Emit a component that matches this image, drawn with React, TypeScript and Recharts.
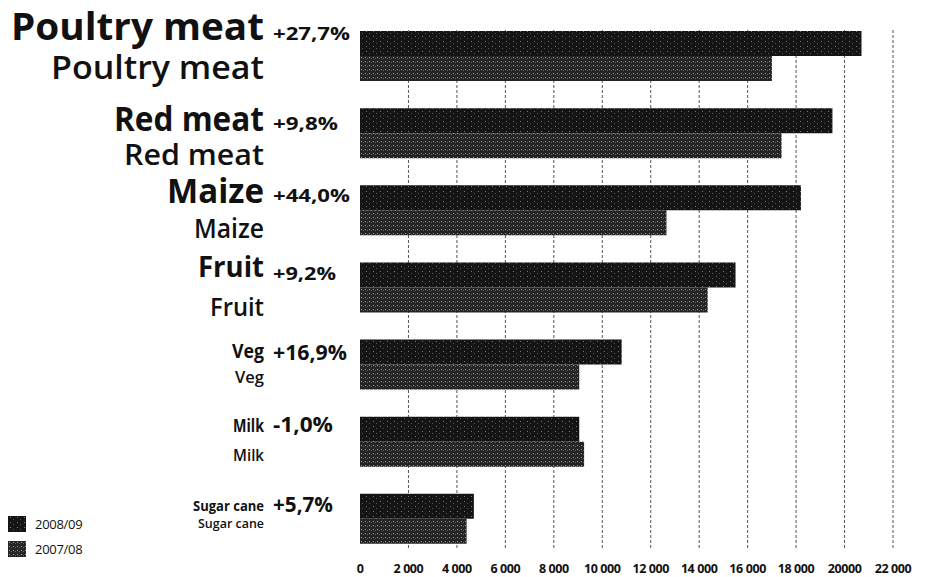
import { BarChart, Bar, XAxis, YAxis, CartesianGrid, Legend } from 'recharts';

const CATEGORIES = ['Poultry meat', 'Red meat', 'Maize', 'Fruit', 'Veg', 'Milk', 'Sugar cane'];
const SERIES = ['2008/09', '2007/08'];
const VALUES_2008_09 = [20700, 19500, 18200, 15500, 10800, 9050, 4700];
const VALUES_2007_08 = [17000, 17400, 12650, 14350, 9050, 9250, 4400];
const CHANGE = ['+27,7%', '+9,8%', '+44,0%', '+9,2%', '+16,9%', '-1,0%', '+5,7%'];
const X_TICKS = [0, 2000, 4000, 6000, 8000, 10000, 12000, 14000, 16000, 18000, 20000, 22000];
const X_TICK_LABELS = ['0', '2 000', '4 000', '6 000', '8 000', '10 000', '12 000', '14 000', '16 000', '18 000', '20000', '22 000'];

const data = CATEGORIES.map((name, i) => ({
  name,
  a: VALUES_2008_09[i],
  b: VALUES_2007_08[i],
}));

const FONT = '"Open Sans", "DejaVu Sans", sans-serif';

// type sizes for the left labels: size, width, baseline offset from the band centre
const LABEL_LOOK = [
  { top: 38, topW: 253, topDy: -16, sub: 32, subW: 213, subDy: 23, pct: 17, pctW: 77, pctDy: -16 },
  { top: 34, topW: 150, topDy: -2, sub: 29, subW: 140, subDy: 32, pct: 17, pctW: 65, pctDy: -3 },
  { top: 34, topW: 97, topDy: -7, sub: 27, subW: 70, subDy: 28, pct: 17, pctW: 77, pctDy: -8 },
  { top: 29, topW: 66, topDy: -11, sub: 25, subW: 54, subDy: 28, pct: 17, pctW: 63, pctDy: -8 },
  { top: 19, topW: 32, topDy: -7, sub: 17, subW: 29, subDy: 18, pct: 21, pctW: 74, pctDy: -5 },
  { top: 17, topW: 31, topDy: -10, sub: 17, subW: 31, subDy: 19, pct: 22, pctW: 60, pctDy: -10 },
  { top: 14, topW: 71, topDy: -8, sub: 12.5, subW: 66, subDy: 9, pct: 21, pctW: 60, pctDy: -7 },
];

const CategoryTick = (props: any) => {
  const { x, y, payload } = props;
  const i = CATEGORIES.indexOf(payload.value);
  const s = LABEL_LOOK[i];
  const right = x - 96;
  return (
    <g fontFamily={FONT} fill="#111">
      <text x={right} y={y + s.topDy} textAnchor="end" fontSize={s.top} fontWeight={700}
        textLength={s.topW} lengthAdjust="spacingAndGlyphs">{payload.value}</text>
      <text x={right} y={y + s.subDy} textAnchor="end" fontSize={s.sub} fontWeight={600}
        textLength={s.subW} lengthAdjust="spacingAndGlyphs">{payload.value}</text>
      <text x={right + 9} y={y + s.pctDy} textAnchor="start" fontSize={s.pct} fontWeight={700}
        textLength={s.pctW} lengthAdjust="spacingAndGlyphs">{CHANGE[i]}</text>
    </g>
  );
};

const ValueTick = (props: any) => {
  const { x, y, payload } = props;
  const label = X_TICK_LABELS[X_TICKS.indexOf(payload.value)];
  return (
    <text x={x} y={y + 15} textAnchor="middle" fontFamily={FONT} fontSize={12.5}
      fontWeight={700} fill="#111" letterSpacing={-0.4}>{label}</text>
  );
};

const LegendBox = ({ payload }: any) => {
  const items = [...(payload || [])].sort(
    (p: any, q: any) => SERIES.indexOf(p.value) - SERIES.indexOf(q.value),
  );
  return (
    <div style={{ fontFamily: FONT, fontSize: 13, color: '#111' }}>
      {items.map((p: any) => (
        <div key={p.value} style={{ display: 'flex', alignItems: 'center', height: 25 }}>
          <svg width={18} height={16}>
            <rect width={18} height={16} fill={p.color} />
          </svg>
          <span style={{ marginLeft: 9, letterSpacing: -0.3 }}>{p.value}</span>
        </div>
      ))}
    </div>
  );
};

export default function App() {
  return (
    <div style={{ position: 'absolute', left: 0, top: 0, background: '#fff' }}>
      <BarChart
        width={933}
        height={577}
        data={data}
        layout="vertical"
        margin={{ top: 17.5, right: 40, bottom: 0, left: 0 }}
        barCategoryGap={13.5}
        barGap={0}
      >
        <defs>
          <pattern id="tone0809" width="7" height="5" patternUnits="userSpaceOnUse">
            <rect width="7" height="5" fill="#141414" />
            <rect x="2" y="1" width="1" height="1" fill="#777" />
            <rect x="5" y="3" width="1" height="1" fill="#555" />
          </pattern>
          <pattern id="tone0708" width="4" height="4" patternUnits="userSpaceOnUse">
            <rect width="4" height="4" fill="#242424" />
            <rect x="1" y="1" width="1" height="1" fill="#9a9a9a" />
            <rect x="3" y="2" width="1" height="1" fill="#666" />
          </pattern>
        </defs>
        <CartesianGrid
          horizontal={false}
          verticalValues={X_TICKS.slice(1)}
          y={30}
          height={520}
          stroke="#555"
          strokeDasharray="3 2"
        />
        <XAxis
          type="number"
          domain={[0, 22000]}
          ticks={X_TICKS}
          interval={0}
          height={19.5}
          axisLine={false}
          tickLine={false}
          tickSize={0}
          tickMargin={0}
          tick={<ValueTick />}
        />
        <YAxis
          type="category"
          dataKey="name"
          width={260}
          interval={0}
          axisLine={false}
          tickLine={false}
          tickSize={0}
          tickMargin={0}
          tick={<CategoryTick />}
        />
        <Legend
          layout="vertical"
          align="left"
          verticalAlign="bottom"
          width={100}
          content={<LegendBox />}
          wrapperStyle={{ left: 8, top: 511 }}
        />
        <Bar dataKey="a" name={SERIES[0]} fill="url(#tone0809)" isAnimationActive={false} />
        <Bar dataKey="b" name={SERIES[1]} fill="url(#tone0708)" isAnimationActive={false} />
      </BarChart>
    </div>
  );
}
